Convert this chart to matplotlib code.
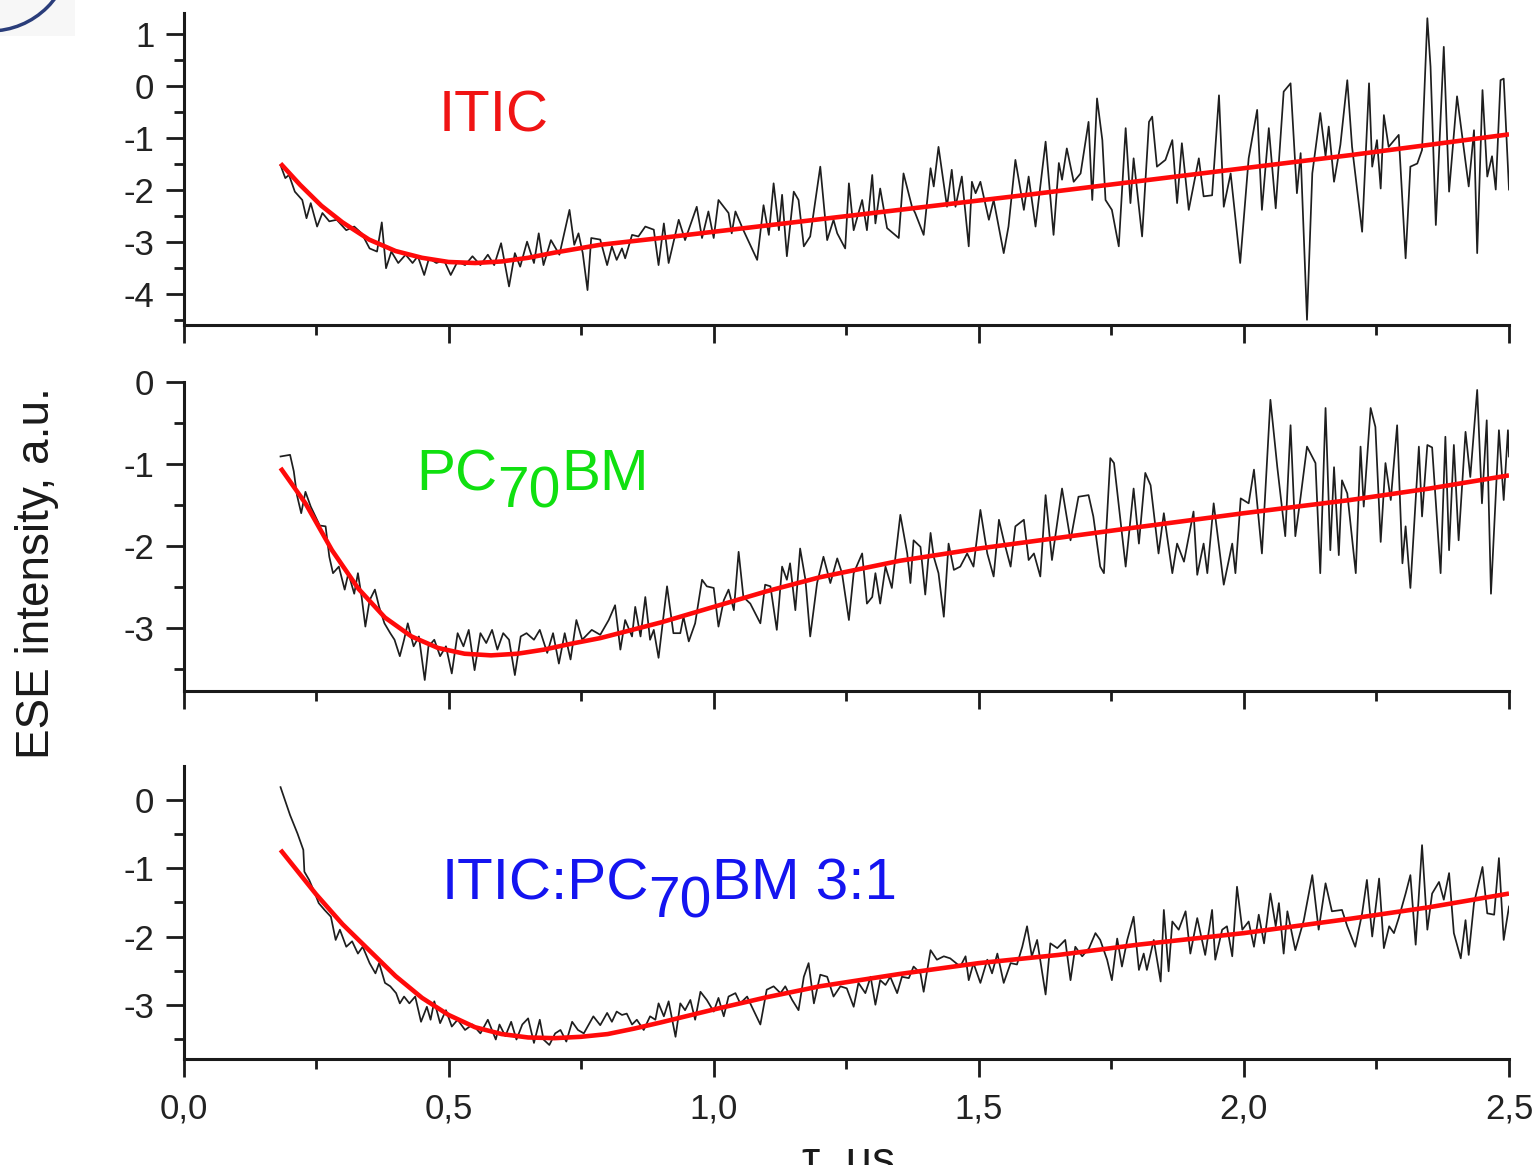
import matplotlib
matplotlib.use("Agg")
import matplotlib.pyplot as plt
from matplotlib.patches import Ellipse, Rectangle
from matplotlib.ticker import FixedLocator, FixedFormatter, NullFormatter

plt.rcParams['font.family'] = ['Liberation Sans', 'DejaVu Sans']
plt.rcParams['axes.unicode_minus'] = False

# ---------------- data ----------------
itic_t = [0.183, 0.192, 0.199, 0.210, 0.224, 0.232, 0.240, 0.252, 0.262, 0.275, 0.289, 0.307, 0.322, 0.336,
          0.351, 0.365, 0.374, 0.382, 0.392, 0.405, 0.419, 0.432, 0.442, 0.454, 0.463, 0.477, 0.491, 0.504,
          0.517, 0.531, 0.545, 0.560, 0.574, 0.586, 0.599, 0.614, 0.625, 0.635, 0.648, 0.661, 0.670, 0.679,
          0.693, 0.709, 0.728, 0.737, 0.745, 0.753, 0.762, 0.769, 0.786, 0.799, 0.808, 0.817, 0.827, 0.833,
          0.846, 0.858, 0.871, 0.887, 0.896, 0.906, 0.915, 0.934, 0.946, 0.968, 0.978, 0.990, 1.000, 1.009,
          1.028, 1.034, 1.041, 1.056, 1.082, 1.094, 1.104, 1.113, 1.123, 1.129, 1.138, 1.151, 1.160, 1.170,
          1.182, 1.201, 1.214, 1.226, 1.233, 1.248, 1.255, 1.264, 1.280, 1.289, 1.299, 1.305, 1.314, 1.327,
          1.349, 1.358, 1.374, 1.380, 1.396, 1.409, 1.415, 1.424, 1.440, 1.449, 1.456, 1.468, 1.481, 1.487,
          1.494, 1.503, 1.519, 1.528, 1.547, 1.556, 1.569, 1.585, 1.594, 1.607, 1.626, 1.641, 1.651, 1.657,
          1.666, 1.679, 1.692, 1.707, 1.714, 1.723, 1.733, 1.739, 1.751, 1.764, 1.777, 1.786, 1.792, 1.808,
          1.821, 1.827, 1.836, 1.852, 1.865, 1.874, 1.883, 1.896, 1.915, 1.924, 1.940, 1.953, 1.962, 1.975,
          1.993, 2.009, 2.025, 2.034, 2.047, 2.060, 2.075, 2.088, 2.100, 2.107, 2.119, 2.129, 2.144, 2.154,
          2.160, 2.170, 2.182, 2.195, 2.204, 2.223, 2.236, 2.242, 2.251, 2.258, 2.264, 2.273, 2.292, 2.305,
          2.314, 2.327, 2.336, 2.346, 2.352, 2.362, 2.377, 2.387, 2.402, 2.415, 2.424, 2.434, 2.440, 2.450,
          2.459, 2.468, 2.475, 2.484, 2.490, 2.500]
itic_y = [-1.52, -1.77, -1.71, -2.03, -2.19, -2.54, -2.25, -2.70, -2.44, -2.60, -2.57, -2.77, -2.70, -2.83,
          -3.12, -3.18, -2.62, -3.50, -3.18, -3.40, -3.24, -3.40, -3.27, -3.63, -3.31, -3.40, -3.34, -3.63,
          -3.37, -3.44, -3.27, -3.44, -3.24, -3.44, -3.02, -3.85, -3.21, -3.47, -2.99, -3.40, -2.83, -3.44,
          -2.96, -3.24, -2.38, -3.05, -2.83, -3.21, -3.92, -2.92, -2.95, -3.44, -3.08, -3.34, -3.12, -3.31,
          -2.86, -2.89, -2.70, -2.76, -3.44, -2.64, -3.40, -2.57, -2.96, -2.32, -2.92, -2.41, -2.92, -2.19,
          -2.44, -2.83, -2.41, -2.77, -3.34, -2.29, -2.86, -1.87, -2.77, -2.09, -3.27, -2.03, -2.19, -3.08,
          -2.89, -1.55, -2.96, -2.57, -2.83, -3.12, -1.87, -2.77, -2.19, -2.77, -1.71, -2.64, -1.97, -2.73,
          -2.92, -1.68, -2.32, -2.44, -2.86, -1.58, -1.93, -1.17, -2.32, -1.61, -2.32, -1.74, -3.08, -1.84,
          -2.06, -1.84, -2.57, -2.19, -3.21, -2.70, -1.42, -2.38, -1.74, -2.70, -1.07, -2.86, -1.48, -1.80,
          -1.20, -1.84, -1.68, -0.69, -2.19, -0.24, -1.04, -2.19, -2.38, -3.08, -0.81, -2.25, -1.39, -2.89,
          -0.69, -0.59, -1.55, -1.42, -1.04, -2.25, -1.10, -2.38, -1.39, -2.12, -2.10, -0.18, -2.32, -1.68,
          -3.40, -1.39, -0.46, -2.38, -0.81, -2.35, -0.11, 0.05, -2.06, -1.29, -4.49, -1.68, -0.52, -1.35,
          -0.78, -1.84, -1.13, 0.11, -1.17, -2.80, 0.05, -1.55, -1.04, -1.97, -0.56, -1.17, -0.94, -3.31,
          -1.55, -1.49, -1.23, 1.30, 0.37, -2.67, 0.75, -2.03, -0.20, -1.23, -1.93, -0.85, -3.21, -0.08,
          -1.74, -1.35, -1.99, 0.11, 0.14, -1.99]
itic_fit_t = [0.183, 0.22, 0.26, 0.30, 0.35, 0.40, 0.45, 0.50, 0.55, 0.60, 0.65, 0.70, 0.786, 0.9,
              1.0, 1.2, 1.4, 1.6, 1.8, 2.0, 2.2, 2.5]
itic_fit_y = [-1.49, -1.90, -2.30, -2.62, -2.95, -3.17, -3.30, -3.38, -3.40, -3.37, -3.30, -3.20, -3.05, -2.92,
              -2.80, -2.56, -2.32, -2.08, -1.83, -1.58, -1.33, -0.93]

pc_t = [0.183, 0.201, 0.208, 0.214, 0.222, 0.230, 0.240, 0.257, 0.268, 0.275, 0.282, 0.293, 0.304, 0.311,
        0.322, 0.329, 0.336, 0.343, 0.351, 0.361, 0.369, 0.379, 0.390, 0.398, 0.408, 0.416, 0.423, 0.434,
        0.444, 0.455, 0.462, 0.473, 0.484, 0.495, 0.506, 0.517, 0.528, 0.538, 0.549, 0.560, 0.571, 0.582,
        0.592, 0.603, 0.614, 0.625, 0.636, 0.647, 0.661, 0.672, 0.686, 0.697, 0.708, 0.719, 0.730, 0.741,
        0.752, 0.770, 0.786, 0.802, 0.814, 0.824, 0.833, 0.846, 0.852, 0.862, 0.871, 0.880, 0.887, 0.896,
        0.912, 0.924, 0.937, 0.943, 0.953, 0.965, 0.978, 0.987, 1.000, 1.009, 1.019, 1.028, 1.038, 1.047,
        1.056, 1.069, 1.088, 1.097, 1.107, 1.119, 1.129, 1.138, 1.144, 1.154, 1.163, 1.173, 1.182, 1.195,
        1.207, 1.220, 1.233, 1.242, 1.255, 1.264, 1.280, 1.289, 1.299, 1.305, 1.314, 1.324, 1.336, 1.352,
        1.365, 1.371, 1.377, 1.390, 1.399, 1.409, 1.415, 1.424, 1.434, 1.443, 1.453, 1.465, 1.478, 1.490,
        1.503, 1.516, 1.528, 1.538, 1.547, 1.560, 1.569, 1.585, 1.594, 1.604, 1.616, 1.626, 1.638, 1.657,
        1.673, 1.688, 1.707, 1.716, 1.729, 1.736, 1.748, 1.755, 1.777, 1.792, 1.802, 1.814, 1.824, 1.839,
        1.849, 1.865, 1.874, 1.887, 1.905, 1.912, 1.924, 1.931, 1.943, 1.962, 1.978, 1.984, 1.994, 2.009,
        2.019, 2.034, 2.050, 2.063, 2.078, 2.088, 2.097, 2.107, 2.119, 2.135, 2.144, 2.154, 2.163, 2.170,
        2.179, 2.185, 2.195, 2.211, 2.220, 2.226, 2.239, 2.248, 2.258, 2.267, 2.277, 2.289, 2.299, 2.305,
        2.314, 2.330, 2.336, 2.346, 2.355, 2.371, 2.380, 2.387, 2.396, 2.405, 2.418, 2.427, 2.440, 2.449,
        2.458, 2.466, 2.481, 2.490, 2.498, 2.500]
pc_y = [-0.91, -0.89, -1.09, -1.38, -1.60, -1.34, -1.52, -1.75, -1.76, -2.13, -2.33, -2.25, -2.53, -2.33,
        -2.58, -2.33, -2.62, -2.98, -2.66, -2.53, -2.74, -2.94, -3.06, -3.14, -3.34, -3.14, -2.94, -3.22,
        -3.10, -3.63, -3.22, -3.14, -3.34, -3.22, -3.55, -3.06, -3.22, -3.02, -3.51, -3.06, -3.18, -3.02,
        -3.26, -3.06, -3.14, -3.57, -3.10, -3.06, -3.14, -3.02, -3.30, -3.06, -3.43, -3.06, -3.38, -2.90,
        -3.14, -3.02, -3.08, -2.90, -2.72, -3.26, -2.90, -3.10, -2.74, -3.10, -2.62, -3.14, -3.02, -3.36,
        -2.49, -3.06, -3.06, -2.86, -3.16, -2.94, -2.41, -2.49, -2.51, -2.98, -2.66, -2.53, -2.78, -2.07,
        -2.62, -2.70, -2.94, -2.47, -2.49, -3.02, -2.25, -2.41, -2.21, -2.78, -2.03, -2.41, -3.10, -2.45,
        -2.13, -2.45, -2.15, -2.33, -2.90, -2.33, -2.09, -2.70, -2.62, -2.33, -2.70, -2.25, -2.51, -1.62,
        -2.09, -2.45, -1.93, -2.01, -2.59, -1.84, -2.13, -2.33, -2.86, -1.97, -2.29, -2.25, -2.09, -2.25,
        -1.56, -2.09, -2.37, -1.68, -1.93, -2.25, -1.76, -1.68, -2.17, -2.09, -2.37, -1.38, -2.17, -1.30,
        -1.93, -1.40, -1.38, -1.64, -2.25, -2.33, -0.93, -0.99, -2.25, -1.30, -1.97, -1.11, -1.26, -2.09,
        -1.60, -2.33, -1.97, -2.19, -1.58, -2.35, -1.97, -2.33, -1.48, -2.47, -1.97, -2.33, -1.42, -1.48,
        -1.07, -2.09, -0.22, -1.04, -1.88, -0.53, -1.88, -1.40, -0.79, -0.99, -2.33, -0.32, -2.05, -1.04,
        -2.11, -1.20, -1.36, -2.33, -0.79, -1.52, -0.32, -0.55, -1.95, -0.99, -1.44, -0.53, -2.21, -1.76,
        -2.51, -0.79, -1.64, -0.77, -0.80, -2.33, -0.67, -2.05, -0.77, -1.93, -0.61, -1.16, -0.10, -1.48,
        -0.47, -2.58, -0.59, -1.44, -0.59, -0.91]
pc_fit_t = [0.183, 0.23, 0.28, 0.33, 0.38, 0.43, 0.48, 0.53, 0.58, 0.63, 0.68, 0.73, 0.786, 0.9,
            1.0, 1.1, 1.2, 1.35, 1.5, 1.65, 1.8, 2.0, 2.2, 2.35, 2.5]
pc_fit_y = [-1.05, -1.48, -2.05, -2.52, -2.87, -3.10, -3.24, -3.31, -3.33, -3.31, -3.26, -3.19, -3.12, -2.93,
            -2.74, -2.55, -2.38, -2.18, -2.03, -1.90, -1.77, -1.60, -1.44, -1.30, -1.14]

blend_t = [0.183, 0.201, 0.215, 0.226, 0.228, 0.237, 0.248, 0.255, 0.266, 0.278, 0.287, 0.295, 0.307, 0.318,
           0.329, 0.338, 0.351, 0.362, 0.369, 0.380, 0.390, 0.401, 0.408, 0.416, 0.426, 0.437, 0.448, 0.459,
           0.466, 0.473, 0.484, 0.495, 0.506, 0.517, 0.531, 0.545, 0.560, 0.574, 0.589, 0.596, 0.607, 0.618,
           0.628, 0.639, 0.650, 0.661, 0.672, 0.679, 0.690, 0.701, 0.711, 0.722, 0.733, 0.744, 0.755, 0.773,
           0.786, 0.799, 0.808, 0.817, 0.827, 0.836, 0.846, 0.855, 0.868, 0.880, 0.890, 0.896, 0.906, 0.915,
           0.928, 0.937, 0.946, 0.956, 0.965, 0.975, 0.987, 1.000, 1.009, 1.019, 1.028, 1.041, 1.050, 1.063,
           1.072, 1.088, 1.100, 1.113, 1.126, 1.135, 1.148, 1.160, 1.170, 1.179, 1.189, 1.201, 1.214, 1.226,
           1.239, 1.251, 1.264, 1.273, 1.286, 1.296, 1.305, 1.314, 1.324, 1.333, 1.346, 1.355, 1.368, 1.377,
           1.390, 1.396, 1.409, 1.421, 1.434, 1.446, 1.465, 1.475, 1.481, 1.490, 1.503, 1.516, 1.525, 1.535,
           1.547, 1.560, 1.572, 1.582, 1.591, 1.600, 1.610, 1.626, 1.635, 1.648, 1.663, 1.673, 1.682, 1.695,
           1.708, 1.720, 1.729, 1.742, 1.751, 1.761, 1.770, 1.780, 1.792, 1.802, 1.811, 1.817, 1.830, 1.843,
           1.849, 1.858, 1.865, 1.877, 1.890, 1.899, 1.912, 1.927, 1.940, 1.946, 1.959, 1.968, 1.978, 1.987,
           1.997, 2.009, 2.019, 2.028, 2.038, 2.050, 2.060, 2.066, 2.075, 2.082, 2.097, 2.113, 2.129, 2.141,
           2.154, 2.166, 2.185, 2.195, 2.210, 2.223, 2.232, 2.242, 2.255, 2.264, 2.274, 2.283, 2.292, 2.305,
           2.314, 2.324, 2.336, 2.346, 2.355, 2.368, 2.377, 2.387, 2.396, 2.409, 2.418, 2.424, 2.434, 2.450,
           2.459, 2.472, 2.481, 2.490, 2.500]
blend_y = [0.19, -0.22, -0.49, -0.73, -1.05, -1.17, -1.37, -1.51, -1.61, -1.71, -2.05, -1.90, -2.15, -2.07,
           -2.25, -2.15, -2.39, -2.54, -2.39, -2.68, -2.73, -2.83, -2.98, -2.88, -2.98, -2.88, -3.25, -3.03,
           -3.22, -2.95, -3.27, -3.08, -3.32, -3.22, -3.37, -3.29, -3.42, -3.22, -3.51, -3.29, -3.46, -3.25,
           -3.51, -3.29, -3.20, -3.56, -3.22, -3.51, -3.59, -3.42, -3.37, -3.54, -3.25, -3.37, -3.42, -3.17,
           -3.30, -3.12, -3.25, -3.10, -3.15, -3.13, -3.29, -3.22, -3.37, -3.17, -3.22, -2.98, -3.17, -2.95,
           -3.47, -2.98, -3.08, -2.93, -3.22, -2.81, -2.93, -3.10, -2.90, -3.17, -2.88, -2.83, -2.98, -2.88,
           -3.03, -3.29, -2.78, -2.73, -2.83, -2.73, -2.93, -3.08, -2.59, -2.39, -2.98, -2.56, -2.59, -2.88,
           -2.73, -2.76, -3.03, -2.68, -2.83, -2.59, -3.00, -2.64, -2.71, -2.59, -2.83, -2.59, -2.61, -2.44,
           -2.54, -2.81, -2.20, -2.34, -2.29, -2.32, -2.44, -2.29, -2.64, -2.39, -2.68, -2.34, -2.54, -2.25,
           -2.68, -2.39, -2.41, -2.15, -1.85, -2.29, -2.05, -2.85, -2.10, -2.17, -2.05, -2.64, -2.15, -2.29,
           -2.17, -1.95, -2.05, -2.34, -2.64, -2.03, -2.44, -2.05, -1.71, -2.49, -2.25, -2.49, -2.05, -2.66,
           -1.61, -2.51, -1.78, -1.90, -1.63, -2.25, -1.73, -2.27, -1.61, -2.34, -1.90, -1.85, -2.29, -1.27,
           -1.90, -1.78, -2.15, -1.68, -2.10, -1.37, -1.85, -1.51, -2.25, -1.63, -2.20, -1.76, -1.10, -1.90,
           -1.22, -1.63, -1.61, -1.85, -2.15, -1.66, -1.17, -2.00, -1.15, -2.17, -1.85, -1.95, -1.73, -1.37,
           -1.10, -2.12, -0.66, -1.90, -1.37, -1.20, -1.46, -1.07, -1.95, -2.32, -1.76, -2.27, -1.51, -0.98,
           -1.66, -1.68, -0.85, -2.05, -1.56]
blend_fit_t = [0.183, 0.25, 0.30, 0.35, 0.40, 0.45, 0.50, 0.55, 0.60, 0.65, 0.70, 0.75, 0.80, 0.85, 0.9,
               1.0, 1.1, 1.2, 1.35, 1.5, 1.65, 1.8, 2.0, 2.2, 2.35, 2.5]
blend_fit_y = [-0.73, -1.38, -1.82, -2.20, -2.58, -2.90, -3.15, -3.33, -3.43, -3.48, -3.49, -3.47, -3.43, -3.35,
               -3.26, -3.07, -2.89, -2.73, -2.55, -2.39, -2.27, -2.12, -1.95, -1.74, -1.57, -1.37]

x_ticks = [0.0, 0.5, 1.0, 1.5, 2.0, 2.5]
x_ticklabels = ['0,0', '0,5', '1,0', '1,5', '2,0', '2,5']
x_minor = [0.25, 0.75, 1.25, 1.75, 2.25]

panels = [
    dict(t=itic_t, y=itic_y, ft=itic_fit_t, fy=itic_fit_y, ylim=(-4.59, 1.40),
         yticks=[-4, -3, -2, -1, 0, 1], yminor=[-4.5, -3.5, -2.5, -1.5, -0.5, 0.5],
         label=[('ITIC', False)], lab_xy=(0.482, -0.88), color='#f01414'),
    dict(t=pc_t, y=pc_y, ft=pc_fit_t, fy=pc_fit_y, ylim=(-3.76, 0.0),
         yticks=[-3, -2, -1, 0], yminor=[-3.5, -2.5, -1.5, -0.5],
         label=[('PC', False), ('70', True), ('BM', False)], lab_xy=(0.439, -1.32), color='#10e010'),
    dict(t=blend_t, y=blend_y, ft=blend_fit_t, fy=blend_fit_y, ylim=(-3.80, 0.50),
         yticks=[-3, -2, -1, 0], yminor=[-3.5, -2.5, -1.5, -0.5],
         label=[('ITIC:PC', False), ('70', True), ('BM 3:1', False)], lab_xy=(0.486, -1.46), color='#1414f0'),
]

W, H = 1539, 1165
fig = plt.figure(figsize=(W / 100, H / 100), dpi=100)
fig.patch.set_facecolor('white')

# axes boxes in pixel units (top, bottom)
boxes = [(13, 325), (381.7, 690.7), (766, 1059.3)]
left_px, right_px = 183.5, 1509

TICK_FS = 25
MAIN_FS = 42
SUB_FS = 41

for i, (p, (top, bot)) in enumerate(zip(panels, boxes)):
    ax = fig.add_axes([left_px / W, 1 - bot / H, (right_px - left_px) / W, (bot - top) / H])
    ax.plot(p['t'], p['y'], color='#1e1e1e', lw=1.25, zorder=2)
    ax.plot(p['ft'], p['fy'], color='#ff0a0a', lw=3.3, zorder=3, solid_capstyle='butt')
    ax.set_xlim(0, 2.5)
    ax.set_ylim(*p['ylim'])
    for s in ['top', 'right']:
        ax.spines[s].set_visible(False)
    for s in ['left', 'bottom']:
        ax.spines[s].set_linewidth(2.2)
        ax.spines[s].set_color('#1a1a1a')
        ax.spines[s].set_capstyle('projecting')
    ax.xaxis.set_major_locator(FixedLocator(x_ticks))
    ax.xaxis.set_minor_locator(FixedLocator(x_minor))
    ax.yaxis.set_major_locator(FixedLocator(p['yticks']))
    ax.yaxis.set_minor_locator(FixedLocator(p['yminor']))
    ax.yaxis.set_major_formatter(FixedFormatter([str(v) for v in p['yticks']]))
    if i == 2:
        ax.xaxis.set_major_formatter(FixedFormatter(x_ticklabels))
    else:
        ax.xaxis.set_major_formatter(NullFormatter())
    ax.tick_params(which='major', direction='out', length=13, width=2.0, color='#1a1a1a',
                   labelsize=TICK_FS, labelcolor='#222222')
    ax.tick_params(which='minor', direction='out', length=7.5, width=2.0, color='#1a1a1a')
    ax.tick_params(axis='y', which='major', pad=8)
    ax.tick_params(axis='x', which='major', pad=11)

    # coloured sample label with (full-size, lowered) subscript
    x0, y0 = p['lab_xy']
    parts = p['label']
    base = ax.text(x0, y0, parts[0][0], fontsize=MAIN_FS, color=p['color'], ha='left', va='baseline',
                   zorder=5)
    prev = base
    for txt, sub in parts[1:]:
        if sub:
            a = ax.annotate(txt, xy=(1, 0), xycoords=(prev, base), xytext=(0, -12.5),
                            textcoords='offset points', fontsize=SUB_FS, color=p['color'],
                            ha='left', va='bottom', zorder=5)
        else:
            a = ax.annotate(txt, xy=(1, 0), xycoords=(prev, base), xytext=(0, 0),
                            textcoords='offset points', fontsize=MAIN_FS, color=p['color'],
                            ha='left', va='bottom', zorder=5)
        prev = a

# axis titles
fig.text(37 / W, 1 - 573 / H, 'ESE intensity, a.u.', rotation=90, fontsize=33, color='#1a1a1a',
         ha='center', va='center')
fig.text(848 / W, (H - 1173) / H, 'τ, μs', fontsize=33, color='#1a1a1a', ha='center', va='baseline')

# partial circled panel marker at top-left corner
fig.add_artist(Rectangle((0, 1 - 36 / H), 75 / W, 36 / H, transform=fig.transFigure,
                         facecolor='#f7f7f7', edgecolor='none', zorder=0))
fig.add_artist(Ellipse((-10 / W, 1 + 50 / H), 2 * 81 / W, 2 * 81 / H, transform=fig.transFigure,
                       facecolor='none', edgecolor='#2a3d7a', lw=2.5, zorder=1))

fig.savefig('out.png', dpi=100)
